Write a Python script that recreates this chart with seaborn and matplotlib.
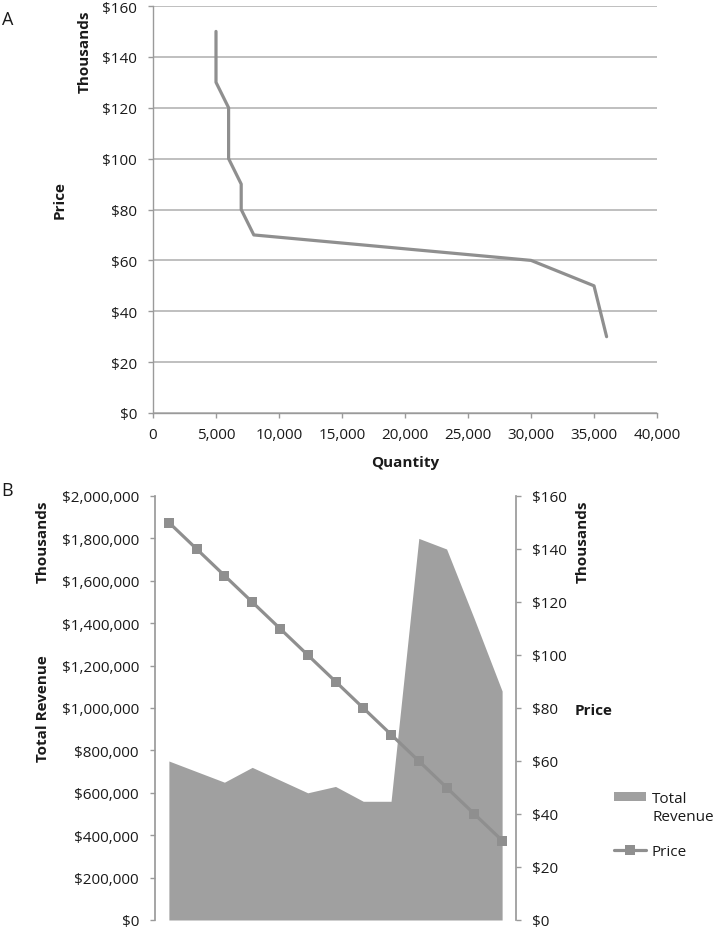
import matplotlib
matplotlib.use("Agg")
import matplotlib.pyplot as plt
import seaborn as sns
import pandas as pd
from matplotlib.ticker import FuncFormatter, MultipleLocator
from matplotlib.patches import Patch
from matplotlib.lines import Line2D

sns.set_theme(style="white")
plt.rcParams['font.family'] = ['Open Sans', 'DejaVu Sans']

# ---- data ----
price_k = [150, 140, 130, 120, 110, 100, 90, 80, 70, 60, 50, 40, 30]          # price, thousands $
quantity = [5000, 5000, 5000, 6000, 6000, 6000, 7000, 7000, 8000, 30000, 35000, 35500, 36000]
revenue_k = [750000, 700000, 650000, 720000, 660000, 600000, 630000, 560000,
             560000, 1800000, 1750000, 1420000, 1080000]                       # total revenue, thousands $

LINE = "#8f8f8f"
AREA = "#a0a0a0"
GRID = "#b4b4b4"
SPINE = "#9a9a9a"
TXT = "#1a1a1a"
FS = 11
TL = 3.6   # tick length (pt)
TP = 8     # tick pad (pt)

fig = plt.figure(figsize=(7.14, 9.29), dpi=100)

# ---------------- Panel A ----------------
axA = fig.add_axes([153/714, 1-414/929, 504/714, 407/929])
dfA = pd.DataFrame({"Quantity": quantity, "Price": price_k})
sns.lineplot(data=dfA, x="Quantity", y="Price", sort=False, estimator=None,
             color=LINE, linewidth=2.3, ax=axA)
axA.set_xlim(0, 40000)
axA.set_ylim(0, 160)
axA.xaxis.set_major_locator(MultipleLocator(5000))
axA.yaxis.set_major_locator(MultipleLocator(20))
axA.xaxis.set_major_formatter(FuncFormatter(lambda v, p: f"{int(v):,}"))
axA.yaxis.set_major_formatter(FuncFormatter(lambda v, p: f"${int(v)}"))
axA.grid(axis="y", color=GRID, linewidth=1.2)
axA.grid(axis="x", visible=False)
for s in ["top", "right"]:
    axA.spines[s].set_visible(False)
for s in ["left", "bottom"]:
    axA.spines[s].set_color(SPINE)
    axA.spines[s].set_linewidth(1.0)
axA.tick_params(axis="both", direction="out", length=TL, width=1, color=SPINE,
                labelsize=FS, labelcolor=TXT, left=True, bottom=True)
axA.tick_params(axis="y", pad=TP)
axA.tick_params(axis="x", pad=6.5)
axA.set_xlabel("")
axA.set_ylabel("")

fig.text(405/714, 1-463/929, "Quantity", ha="center", va="center",
         fontsize=FS, fontweight="bold", color=TXT)
fig.text(85/714, 1-52/929, "Thousands", ha="center", va="center", rotation=90,
         fontsize=FS, fontweight="bold", color=TXT)
fig.text(60/714, 1-200/929, "Price", ha="center", va="center", rotation=90,
         fontsize=FS, fontweight="bold", color=TXT)
fig.text(8/714, 1-20/929, "A", ha="center", va="center", fontsize=13, color=TXT)

# ---------------- Panel B ----------------
axB = fig.add_axes([155/714, 1-921/929, 361/714, 424/929])
idx = list(range(len(price_k)))
axB.fill_between(idx, 0, revenue_k, color=AREA, linewidth=0, zorder=1)
axB.set_xlim(-0.5, len(price_k) - 0.5)
axB.set_ylim(0, 2000000)
axB.yaxis.set_major_locator(MultipleLocator(200000))
axB.yaxis.set_major_formatter(FuncFormatter(lambda v, p: f"${int(v):,}"))
axB.set_xticks([])
for s in ["top", "right", "bottom"]:
    axB.spines[s].set_visible(False)
axB.spines["left"].set_color(SPINE)
axB.tick_params(axis="y", direction="out", length=TL, width=1, color=SPINE,
                labelsize=FS, labelcolor=TXT, left=True, pad=TP)

axB2 = axB.twinx()
dfB = pd.DataFrame({"idx": idx, "Price": price_k})
sns.lineplot(data=dfB, x="idx", y="Price", estimator=None, color=LINE,
             linewidth=2.3, marker="s", markersize=6.5, markeredgewidth=0,
             markerfacecolor=LINE, ax=axB2, zorder=3)
axB2.set_ylim(0, 160)
axB2.set_xlim(-0.5, len(price_k) - 0.5)
axB2.yaxis.set_major_locator(MultipleLocator(20))
axB2.yaxis.set_major_formatter(FuncFormatter(lambda v, p: f"${int(v)}"))
for s in ["top", "left", "bottom"]:
    axB2.spines[s].set_visible(False)
axB2.spines["right"].set_color(SPINE)
axB2.tick_params(axis="y", direction="out", length=TL, width=1, color=SPINE,
                 labelsize=FS, labelcolor=TXT, right=True, pad=TP)
axB2.set_xlabel("")
axB2.set_ylabel("")
axB.set_xlabel("")

fig.text(43/714, 1-542/929, "Thousands", ha="center", va="center", rotation=90,
         fontsize=FS, fontweight="bold", color=TXT)
fig.text(43/714, 1-709/929, "Total Revenue", ha="center", va="center", rotation=90,
         fontsize=FS, fontweight="bold", color=TXT)
fig.text(583/714, 1-542/929, "Thousands", ha="center", va="center", rotation=90,
         fontsize=FS, fontweight="bold", color=TXT)
fig.text(594/714, 1-711/929, "Price", ha="center", va="center",
         fontsize=FS, fontweight="bold", color=TXT)
fig.text(7/714, 1-491/929, "B", ha="center", va="center", fontsize=13, color=TXT)

handles = [Patch(facecolor=AREA, edgecolor="none"),
           Line2D([0], [0], color=LINE, linewidth=2.3, marker="s", markersize=6.5,
                  markeredgewidth=0)]
fig.legend(handles, ["Total", "Price"], loc="upper left",
           bbox_to_anchor=(614/714, 1-792/929), frameon=False, fontsize=FS,
           handlelength=2.1, handleheight=0.5, handletextpad=0.35,
           labelspacing=2.5, borderpad=0, borderaxespad=0, labelcolor=TXT)
fig.text(653/714, 1-818/929, "Revenue", ha="left", va="center",
         fontsize=FS, color=TXT)

fig.savefig("out.png", dpi=100)
